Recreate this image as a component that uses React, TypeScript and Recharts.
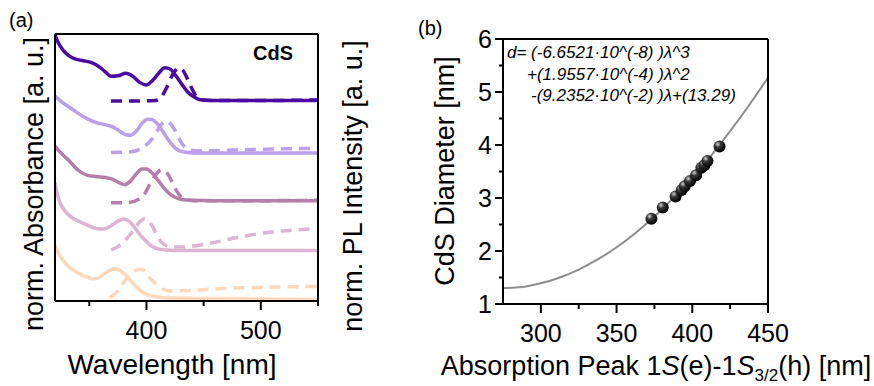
import React from "react";
import { LineChart, ComposedChart, Line, Scatter, XAxis, YAxis } from "recharts";

const FONT = '"Liberation Sans", Arial, sans-serif';

// panel (a): solid = absorbance, dashed = PL, each sample stacked one unit higher
const ABS_WL_1 = [320, 323, 327, 332, 338, 345, 352, 358, 364, 369, 375, 382, 388, 394, 400, 405, 410, 416, 421, 426, 431, 436, 441, 446, 455, 480, 520, 550];
const ABS_1 = [5.28, 5.12, 4.98, 4.87, 4.8, 4.77, 4.73, 4.66, 4.55, 4.46, 4.47, 4.52, 4.46, 4.34, 4.29, 4.37, 4.5, 4.63, 4.6, 4.46, 4.3, 4.15, 4.06, 4.0, 3.98, 3.98, 3.98, 3.98];
const PL_WL_1 = [369, 390, 408, 413, 418, 423, 428, 431, 435, 439, 443, 447, 460, 500, 550];
const PL_1 = [3.97, 3.97, 3.98, 4.05, 4.25, 4.5, 4.62, 4.6, 4.45, 4.25, 4.08, 4.0, 3.98, 3.98, 3.99];

const ABS_WL_2 = [320, 326, 333, 340, 348, 356, 364, 370, 376, 382, 386, 391, 396, 401, 405, 410, 415, 420, 425, 430, 436, 445, 480, 550];
const ABS_2 = [4.07, 3.95, 3.84, 3.73, 3.62, 3.54, 3.5, 3.46, 3.38, 3.3, 3.29, 3.37, 3.52, 3.61, 3.6, 3.5, 3.34, 3.17, 3.04, 2.97, 2.95, 2.94, 2.94, 2.94];
const PL_WL_2 = [369, 385, 393, 400, 405, 410, 414, 417, 421, 425, 429, 433, 438, 445, 480, 520, 550];
const PL_2 = [2.95, 2.96, 3.0, 3.1, 3.22, 3.4, 3.53, 3.57, 3.52, 3.38, 3.2, 3.07, 3.0, 2.98, 3.0, 3.02, 3.03];

const ABS_WL_3 = [320, 326, 333, 340, 348, 356, 364, 370, 376, 381, 386, 391, 396, 400, 405, 410, 415, 420, 425, 432, 440, 480, 550];
const ABS_3 = [3.07, 2.92, 2.77, 2.6, 2.5, 2.47, 2.45, 2.42, 2.35, 2.31, 2.38, 2.52, 2.62, 2.62, 2.54, 2.4, 2.25, 2.13, 2.06, 2.01, 2.0, 1.99, 1.99];
const PL_WL_3 = [369, 382, 394, 399, 403, 408, 413, 417, 420, 423, 426, 430, 434, 441, 480, 550];
const PL_3 = [1.95, 1.95, 2.03, 2.15, 2.32, 2.5, 2.6, 2.57, 2.47, 2.33, 2.2, 2.07, 2.02, 1.99, 1.99, 2.0];

const ABS_WL_4 = [320, 322, 325, 329, 334, 340, 348, 356, 362, 368, 374, 380, 385, 390, 395, 400, 405, 411, 418, 430, 480, 550];
const ABS_4 = [2.35, 2.12, 1.92, 1.78, 1.67, 1.59, 1.51, 1.44, 1.43, 1.48, 1.57, 1.63, 1.58, 1.45, 1.3, 1.18, 1.08, 1.03, 1.01, 1.0, 1.0, 1.0];
const PL_WL_4 = [369, 375, 380, 385, 390, 394, 398, 402, 406, 410, 414, 420, 430, 452, 481, 510, 544];
const PL_4 = [1.01, 1.08, 1.17, 1.3, 1.45, 1.57, 1.63, 1.58, 1.45, 1.27, 1.15, 1.08, 1.07, 1.13, 1.27, 1.37, 1.43];

const ABS_WL_5 = [320, 323, 327, 332, 339, 346, 353, 358, 363, 368, 372, 377, 382, 387, 392, 397, 403, 410, 420, 450, 500, 550];
const ABS_5 = [1.11, 0.95, 0.81, 0.68, 0.57, 0.49, 0.44, 0.46, 0.54, 0.61, 0.64, 0.6, 0.51, 0.38, 0.26, 0.17, 0.11, 0.08, 0.06, 0.05, 0.04, 0.03];
const PL_WL_5 = [368, 373, 377, 381, 385, 390, 394, 398, 403, 408, 412, 416, 420, 438, 467, 496, 550];
const PL_5 = [0.07, 0.16, 0.27, 0.4, 0.5, 0.6, 0.63, 0.6, 0.45, 0.35, 0.27, 0.22, 0.2, 0.21, 0.25, 0.27, 0.29];

const COLORS_A = ["#fcd7b9", "#dcb4d2", "#b47daa", "#b9a0eb", "#4b0aa0"];
const TICKS_A = [350, 400, 450, 500, 550];
const LABELS_A = [400, 500];

// panel (b): sizing curve and measured peaks
const FIT_WL = [275, 287.5, 300, 312.5, 325, 337.5, 350, 362.5, 375, 387.5, 400, 412.5, 425, 437.5, 450];
const FIT_D = [1.3, 1.32, 1.39, 1.5, 1.65, 1.84, 2.07, 2.34, 2.65, 3.0, 3.38, 3.8, 4.26, 4.75, 5.27];
const PEAK_WL = [373, 380.5, 389, 393, 395, 398.5, 402.5, 406, 408, 410, 418];
const PEAK_D = [2.61, 2.82, 3.03, 3.15, 3.22, 3.32, 3.43, 3.57, 3.62, 3.7, 3.97];
const TICKS_BX = [300, 325, 350, 375, 400, 425, 450];
const LABELS_BX = [300, 350, 400, 450];
const TICKS_BY = [1, 1.5, 2, 2.5, 3, 3.5, 4, 4.5, 5, 5.5, 6];

const zip = (xs: number[], ys: number[]) => xs.map((x, i) => ({ x, y: ys[i] }));

const SERIES_A = [
  { color: COLORS_A[0], abs: zip(ABS_WL_5, ABS_5), pl: zip(PL_WL_5, PL_5) },
  { color: COLORS_A[1], abs: zip(ABS_WL_4, ABS_4), pl: zip(PL_WL_4, PL_4) },
  { color: COLORS_A[2], abs: zip(ABS_WL_3, ABS_3), pl: zip(PL_WL_3, PL_3) },
  { color: COLORS_A[3], abs: zip(ABS_WL_2, ABS_2), pl: zip(PL_WL_2, PL_2) },
  { color: COLORS_A[4], abs: zip(ABS_WL_1, ABS_1), pl: zip(PL_WL_1, PL_1) },
];

const frame = { stroke: "#000", strokeWidth: 2 };

const BottomTick = ({ x, y, payload, labels }: any) => {
  const major = labels.includes(payload.value);
  return (
    <g>
      <line x1={x} x2={x} y1={y} y2={y + (major ? 9 : 5)} stroke="#000" strokeWidth={2} />
      {major && (
        <text x={x} y={y + 38} textAnchor="middle" fontSize={25} fontFamily={FONT} fill="#000">
          {payload.value}
        </text>
      )}
    </g>
  );
};

const LeftTick = ({ x, y, payload }: any) => {
  const major = Number.isInteger(payload.value);
  return (
    <g>
      <line x1={x} x2={x - (major ? 8 : 4)} y1={y} y2={y} stroke="#000" strokeWidth={2} />
      {major && (
        <text x={x - 11} y={y + 9} textAnchor="end" fontSize={25} fontFamily={FONT} fill="#000">
          {payload.value}
        </text>
      )}
    </g>
  );
};

const Bead = ({ cx, cy }: any) => (
  <g>
    <defs>
      <radialGradient id="bead" cx="35%" cy="30%" r="70%">
        <stop offset="0%" stopColor="#d8d8d8" />
        <stop offset="35%" stopColor="#3a3a3a" />
        <stop offset="100%" stopColor="#000" />
      </radialGradient>
    </defs>
    <circle cx={cx} cy={cy} r={6} fill="url(#bead)" />
  </g>
);

// axes need a non-zero size to be drawn, so each one takes 1px out of the margins
function PanelA() {
  return (
    <LineChart width={340} height={386} margin={{ top: 33, right: 21, bottom: 84, left: 54 }}>
      <XAxis
        type="number"
        dataKey="x"
        domain={[320, 550]}
        allowDataOverflow
        ticks={TICKS_A}
        interval={0}
        tickSize={0}
        tickMargin={0}
        tickLine={false}
        height={1}
        axisLine={frame}
        tick={(p: any) => <BottomTick {...p} labels={LABELS_A} />}
      />
      <XAxis xAxisId="top" orientation="top" type="number" domain={[320, 550]} tick={false} tickLine={false} height={1} axisLine={frame} />
      <YAxis type="number" domain={[0, 5.3]} allowDataOverflow tick={false} tickLine={false} width={1} axisLine={frame} />
      <YAxis yAxisId="r" orientation="right" type="number" domain={[0, 5.3]} tick={false} tickLine={false} width={1} axisLine={frame} />
      {SERIES_A.map((s, i) => [
        <Line key={`a${i}`} data={s.abs} dataKey="y" type="monotone" stroke={s.color} strokeWidth={3.5} dot={false} isAnimationActive={false} />,
        <Line key={`p${i}`} data={s.pl} dataKey="y" type="monotone" stroke={s.color} strokeWidth={3.5} strokeDasharray="11 7" dot={false} isAnimationActive={false} />,
      ])}
    </LineChart>
  );
}

function PanelB() {
  const fit = zip(FIT_WL, FIT_D);
  const peaks = zip(PEAK_WL, PEAK_D);
  return (
    <ComposedChart width={454} height={386} margin={{ top: 38, right: 105, bottom: 81, left: 82 }}>
      <XAxis
        type="number"
        dataKey="x"
        domain={[275, 450]}
        ticks={TICKS_BX}
        interval={0}
        tickSize={0}
        tickMargin={0}
        tickLine={false}
        height={1}
        axisLine={frame}
        tick={(p: any) => <BottomTick {...p} labels={LABELS_BX} />}
      />
      <XAxis xAxisId="top" orientation="top" type="number" domain={[275, 450]} tick={false} tickLine={false} height={1} axisLine={frame} />
      <YAxis
        type="number"
        domain={[1, 6]}
        ticks={TICKS_BY}
        interval={0}
        tickSize={0}
        tickMargin={0}
        tickLine={false}
        width={1}
        axisLine={frame}
        tick={(p: any) => <LeftTick {...p} />}
      />
      <YAxis yAxisId="r" orientation="right" type="number" domain={[1, 6]} tick={false} tickLine={false} width={1} axisLine={frame} />
      <Line data={fit} dataKey="y" type="monotone" stroke="#8c8c8c" strokeWidth={2} dot={false} isAnimationActive={false} />
      <Scatter data={peaks} dataKey="y" shape={(p: any) => <Bead {...p} />} isAnimationActive={false} />
    </ComposedChart>
  );
}

export default function App() {
  const t = { fontFamily: FONT, fill: "#000" };
  return (
    <div style={{ position: "absolute", left: 0, top: 0, width: 874, height: 386, background: "#fff", fontFamily: FONT }}>
      <div style={{ position: "absolute", left: 0, top: 0 }}>
        <PanelA />
      </div>
      <div style={{ position: "absolute", left: 420, top: 0 }}>
        <PanelB />
      </div>
      <svg width={874} height={386} style={{ position: "absolute", left: 0, top: 0, pointerEvents: "none" }}>
        <text x={9} y={27} fontSize={20} {...t}>(a)</text>
        <text x={253} y={60} fontSize={20} fontWeight="bold" {...t}>CdS</text>
        <text x={172} y={374} fontSize={28} textAnchor="middle" {...t}>Wavelength [nm]</text>
        <text transform="translate(43,184) rotate(-90)" fontSize={27} textAnchor="middle" {...t}>norm. Absorbance [a. u.]</text>
        <text transform="translate(362,186) rotate(-90)" fontSize={27} textAnchor="middle" {...t}>norm. PL Intensity [a. u.]</text>

        <text x={418} y={35} fontSize={20} {...t}>(b)</text>
        <text transform="translate(454,171) rotate(-90)" fontSize={27} textAnchor="middle" {...t}>CdS Diameter [nm]</text>
        <text x={656} y={375} fontSize={27} textAnchor="middle" {...t}>
          Absorption Peak 1<tspan fontStyle="italic">S</tspan>(e)-1<tspan fontStyle="italic">S</tspan>
          <tspan fontSize={17} dy={6}>3/2</tspan>
          <tspan dy={-6}>(h) [nm]</tspan>
        </text>
        <text x={507} y={58} fontSize={17} fontStyle="italic" {...t}>d= (-6.6521·10^(-8) )λ^3</text>
        <text x={527} y={80} fontSize={17} fontStyle="italic" {...t}>+(1.9557·10^(-4) )λ^2</text>
        <text x={531} y={101} fontSize={17} fontStyle="italic" {...t}>-(9.2352·10^(-2) )λ+(13.29)</text>
      </svg>
    </div>
  );
}
